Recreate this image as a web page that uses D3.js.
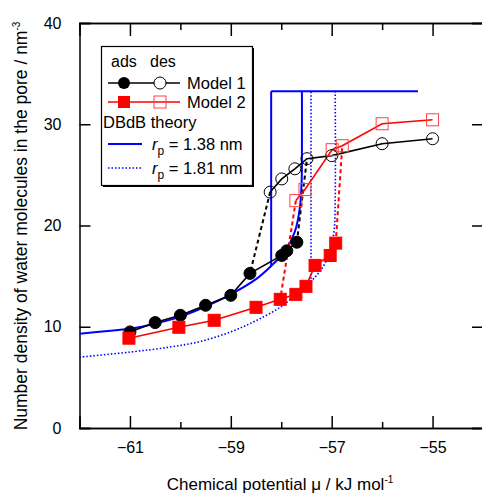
<html>
<head>
<meta charset="utf-8" />
<script src="https://d3js.org/d3.v7.min.js"></script>
<style>
    body { margin: 0px; background: #fff; }
    text { font-family: "Liberation Sans", Arial, sans-serif; fill: #000; }
</style>
</head>
<body>
<script>
// values
var xTicks = [-61, -59, -57, -55];
var xMinor = [-60, -58, -56];
var yTicks = [0, 10, 20, 30, 40];

// Model 1 (black circles)
var m1AdsX = [-61, -60.5, -60, -59.5, -59, -58.62, -57.99, -57.89, -57.69];
var m1AdsY = [9.49, 10.41, 11.13, 12.12, 13.1, 15.27, 17.04, 17.5, 18.35];
var m1DesX = [-55, -56, -57, -57.49, -57.73, -57.99, -58.22];
var m1DesY = [28.57, 28.08, 26.9, 26.6, 25.6, 24.6, 23.3];

// Model 2 (red squares)
var m2AdsX = [-61.02, -60.03, -59.33, -58.5, -58.02, -57.71, -57.51, -57.33, -57.03, -56.92];
var m2AdsY = [8.87, 9.95, 10.64, 11.92, 12.71, 13.2, 13.99, 16.06, 17.04, 18.26];
var m2DesX = [-55, -56, -56.79, -56.99, -57.53, -57.71];
var m2DesY = [30.44, 30.05, 27.88, 27.49, 23.55, 22.46];

// DBdB theory
var th1X = [-62, -61.5, -61, -60.5, -60, -59.5, -59, -58.5, -58.2, -57.92, -57.73, -57.63, -57.595, -57.59, -57.59];
var th1Y = [9.3, 9.55, 9.8, 10.3, 11.0, 12.0, 13.2, 14.7, 16.0, 17.5, 19.4, 21.8, 24.5, 27.4, 33.25];
var th2X = [-62, -61, -60.2, -59.6, -59, -58.5, -58, -57.6, -57.33, -57.15, -57.02, -56.95, -56.93, -56.93];
var th2Y = [7.0, 7.5, 8.0, 8.55, 9.5, 10.6, 12.0, 13.7, 14.9, 16.1, 17.6, 19.6, 22.5, 33.25];
var eqX = [-58.2, -57.41];
var eqBottom = [16.0, 14.4];
var plateauY = 33.25;
var plateauEnd = -55.29;

var W = 482, H = 495;
var svg = d3.select("body").append("svg").attr("width", W).attr("height", H);

var x = d3.scaleLinear().domain([-62, -54]).range([79.5, 483]);
var y = d3.scaleLinear().domain([0, 40]).range([428, 23]);

function zip(a, b) { return a.map((v, i) => [v, b[i]]); }
var line = d3.line().x(d => x(d[0])).y(d => y(d[1]));
var curve = d3.line().x(d => x(d[0])).y(d => y(d[1])).curve(d3.curveCatmullRom.alpha(0.5));

// axes: bottom, top, left, right with inward ticks
var ax = svg.append("g");
ax.append("g").attr("transform", "translate(0,428)")
    .call(d3.axisBottom(x).tickValues(xTicks).tickSize(-12).tickPadding(14).tickFormat(d3.format("d")));
ax.append("g").attr("transform", "translate(0,428)")
    .call(d3.axisBottom(x).tickValues(xMinor).tickSize(-6).tickFormat(""));
ax.append("g").attr("transform", "translate(0,23)")
    .call(d3.axisTop(x).tickValues(xTicks).tickSize(-13).tickFormat(""));
ax.append("g").attr("transform", "translate(0,23)")
    .call(d3.axisTop(x).tickValues(xMinor).tickSize(-7).tickFormat(""));
ax.append("g").attr("transform", "translate(79.5,0)")
    .call(d3.axisLeft(y).tickValues(yTicks).tickSize(-11).tickPadding(18));
ax.append("g").attr("transform", "translate(483,0)")
    .call(d3.axisRight(y).tickValues(yTicks).tickSize(-11).tickFormat(""));
ax.selectAll(".domain").attr("stroke", "#000").attr("stroke-width", 1.5);
ax.selectAll(".tick line").attr("stroke", "#000").attr("stroke-width", 1.5);
ax.selectAll(".tick text").style("font-size", "16px").attr("font-family", null);

// theory lines
var blue = "#0000ff";
svg.append("path").datum(zip(th1X, th1Y)).attr("d", curve)
    .attr("fill", "none").attr("stroke", blue).attr("stroke-width", 2);
svg.append("path").datum(zip(th2X, th2Y)).attr("d", curve)
    .attr("fill", "none").attr("stroke", blue).attr("stroke-width", 1.6).attr("stroke-dasharray", "1.5,2");
svg.append("line").attr("x1", x(eqX[0])).attr("x2", x(eqX[0])).attr("y1", y(eqBottom[0])).attr("y2", y(plateauY))
    .attr("stroke", blue).attr("stroke-width", 2);
svg.append("line").attr("x1", x(eqX[1])).attr("x2", x(eqX[1])).attr("y1", y(eqBottom[1])).attr("y2", y(plateauY))
    .attr("stroke", blue).attr("stroke-width", 1.6).attr("stroke-dasharray", "1.5,2");
svg.append("line").attr("x1", x(eqX[0])).attr("x2", x(plateauEnd)).attr("y1", y(plateauY)).attr("y2", y(plateauY))
    .attr("stroke", blue).attr("stroke-width", 2);

// jumps (dashed)
function dash(p, color) {
    svg.append("path").datum(p).attr("d", line).attr("fill", "none")
        .attr("stroke", color).attr("stroke-width", 2).attr("stroke-dasharray", "4,3");
}
dash([[m1AdsX[8], m1AdsY[8]], [m1DesX[3], m1DesY[3]]], "#000");
dash([[m1DesX[6], m1DesY[6]], [m1AdsX[5], m1AdsY[5]]], "#000");
dash([[m2AdsX[9], m2AdsY[9]], [m2DesX[2], m2DesY[2]]], "#ff0000");
dash([[m2DesX[5], m2DesY[5]], [m2AdsX[4], m2AdsY[4]]], "#ff0000");

// data lines
function solid(xs, ys, color) {
    svg.append("path").datum(zip(xs, ys)).attr("d", line).attr("fill", "none")
        .attr("stroke", color).attr("stroke-width", 1.6);
}
solid(m1AdsX, m1AdsY, "#000");
solid(m1DesX, m1DesY, "#000");
solid(m2AdsX, m2AdsY, "#ff0000");
solid(m2DesX, m2DesY, "#ff0000");

// markers
function circles(xs, ys, filled) {
    svg.append("g").selectAll("circle").data(zip(xs, ys)).enter().append("circle")
        .attr("cx", d => x(d[0])).attr("cy", d => y(d[1])).attr("r", 6)
        .attr("fill", filled ? "#000" : "none").attr("stroke", "#000").attr("stroke-width", 1);
}
function squares(xs, ys, filled) {
    svg.append("g").selectAll("rect").data(zip(xs, ys)).enter().append("rect")
        .attr("x", d => x(d[0]) - 6).attr("y", d => y(d[1]) - 6).attr("width", 12).attr("height", 12)
        .attr("fill", filled ? "#ff0000" : "none").attr("stroke", filled ? "#ff0000" : "#ff4040").attr("stroke-width", 1);
}
circles(m1AdsX, m1AdsY, true);
circles(m1DesX, m1DesY, false);
squares(m2AdsX, m2AdsY, true);
squares(m2DesX, m2DesY, false);

// axis titles
var xt = svg.append("text").attr("x", 280).attr("y", 490).attr("text-anchor", "middle").style("font-size", "17px");
xt.append("tspan").text("Chemical potential \u03bc  / kJ mol");
xt.append("tspan").attr("dy", -7).style("font-size", "10px").text("-1");

var yt = svg.append("text").attr("transform", "translate(27,226) rotate(-90)")
    .attr("text-anchor", "middle").style("font-size", "17.5px");
yt.append("tspan").text("Number density of water molecules in the pore  / nm");
yt.append("tspan").attr("dy", -7).style("font-size", "10px").text("-3");

// legend
var lg = svg.append("g");
lg.append("rect").attr("x", 103).attr("y", 48).attr("width", 151).attr("height", 139).attr("fill", "#000");
lg.append("rect").attr("x", 101.5).attr("y", 46.5).attr("width", 151).attr("height", 139)
    .attr("fill", "#fff").attr("stroke", "#000").attr("stroke-width", 1.2);
lg.append("text").attr("x", 111).attr("y", 67).style("font-size", "16px").text("ads");
lg.append("text").attr("x", 150).attr("y", 67).style("font-size", "16px").text("des");

lg.append("line").attr("x1", 108).attr("x2", 180).attr("y1", 83).attr("y2", 83).attr("stroke", "#000").attr("stroke-width", 1.6);
lg.append("circle").attr("cx", 124).attr("cy", 83).attr("r", 6).attr("fill", "#000");
lg.append("circle").attr("cx", 160).attr("cy", 83).attr("r", 6).attr("fill", "#fff").attr("stroke", "#000");
lg.append("text").attr("x", 187).attr("y", 89).style("font-size", "16.5px").text("Model 1");

lg.append("line").attr("x1", 108).attr("x2", 180).attr("y1", 102).attr("y2", 102).attr("stroke", "#ff0000").attr("stroke-width", 1.6);
lg.append("rect").attr("x", 118).attr("y", 96).attr("width", 12).attr("height", 12).attr("fill", "#ff0000");
lg.append("rect").attr("x", 154).attr("y", 96).attr("width", 12).attr("height", 12).attr("fill", "none").attr("stroke", "#ff4040");
lg.append("text").attr("x", 187).attr("y", 108).style("font-size", "16.5px").text("Model 2");

lg.append("text").attr("x", 103).attr("y", 128).style("font-size", "16.5px").text("DBdB theory");

lg.append("line").attr("x1", 108).attr("x2", 142).attr("y1", 144).attr("y2", 144).attr("stroke", blue).attr("stroke-width", 2);
var r1 = lg.append("text").attr("x", 152).attr("y", 150).style("font-size", "16.5px");
r1.append("tspan").style("font-style", "italic").text("r");
r1.append("tspan").attr("dy", 5).style("font-size", "12px").text("p");
r1.append("tspan").attr("dy", -5).text(" = 1.38 nm");

lg.append("line").attr("x1", 108).attr("x2", 142).attr("y1", 168).attr("y2", 168).attr("stroke", blue).attr("stroke-width", 1.6).attr("stroke-dasharray", "1.5,2");
var r2 = lg.append("text").attr("x", 152).attr("y", 174).style("font-size", "16.5px");
r2.append("tspan").style("font-style", "italic").text("r");
r2.append("tspan").attr("dy", 5).style("font-size", "12px").text("p");
r2.append("tspan").attr("dy", -5).text(" = 1.81 nm");
</script>
</body>
</html>
